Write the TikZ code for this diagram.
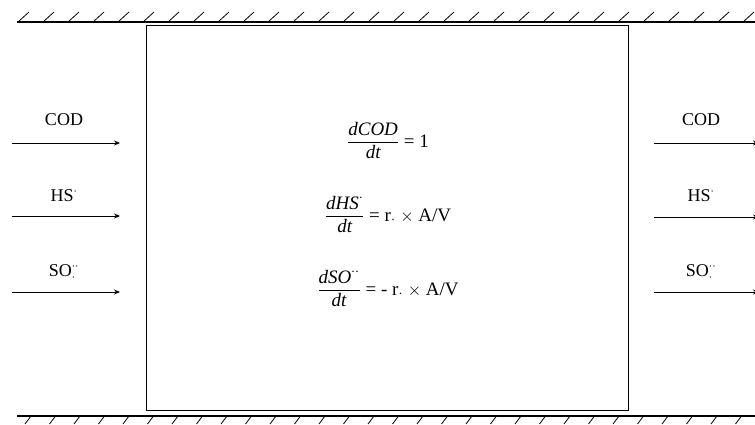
\documentclass[tikz,border=0pt]{standalone}
\usepackage{amsmath}
\usepackage{fontspec}
\setmainfont{Liberation Serif}
\usetikzlibrary{arrows.meta}
\begin{document}
\begin{tikzpicture}[x=1pt,y=-1pt,
  wall/.style={line width=1.1pt},
  hatch/.style={line width=0.8pt},
  flow/.style={line width=0.9pt,-{Stealth[length=6pt,width=5pt]}},
  lbl/.style={font=\fontsize{18}{20}\selectfont, inner sep=0pt, anchor=base},
  eq/.style={font=\fontsize{19}{21}\selectfont, inner sep=0pt, anchor=base}]
\useasboundingbox (0,0) rectangle (755,425);
% walls
\draw[wall] (17,22) -- (755,22);
\foreach \x in {18,43,...,755} \draw[hatch] (\x,22) -- ++(11,-10);
\draw[wall] (17,416) -- (755,416);
\foreach \x in {31,55.5,...,755} \draw[hatch] (\x,416) -- ++(-6,8);
% reactor box
\node[draw, line width=1pt, inner sep=0pt, minimum width=482pt, minimum height=384pt] (reactor) at (387,218) {};
% inflow
\coordinate (inA) at (12,143); \coordinate (inAe) at (120,143);
\coordinate (inB) at (12,216); \coordinate (inBe) at (120,216);
\coordinate (inC) at (12,292); \coordinate (inCe) at (120,292);
\draw[flow] (inA) -- (inAe);
\draw[flow] (inB) -- (inBe);
\draw[flow] (inC) -- (inCe);
\node[lbl] (lA) at (64,126) {COD};
\node[lbl] (lB) at (64,201) {HS$^{\cdot}$};
\node[lbl] (lC) at (64,276) {SO$^{\cdot\cdot}_{\cdot}$};
% outflow
\coordinate (outA) at (654,143); \coordinate (outAe) at (759,143);
\coordinate (outB) at (654,217); \coordinate (outBe) at (759,217);
\coordinate (outC) at (654,292); \coordinate (outCe) at (759,292);
\draw[flow] (outA) -- (outAe);
\draw[flow] (outB) -- (outBe);
\draw[flow] (outC) -- (outCe);
\node[lbl] (rA) at (701,126) {COD};
\node[lbl] (rB) at (701,201) {HS$^{\cdot}$};
\node[lbl] (rC) at (701,276) {SO$^{\cdot\cdot}_{\cdot}$};
% equations
\node[eq] (e1) at (388,147) {$\dfrac{\textit{dCOD}}{\textit{dt}}$ = 1};
\node[eq] (e2) at (388,221) {$\dfrac{\textit{dHS}^{\cdot}}{\textit{dt}}$ = r$_{\cdot}$ $\times$ A/V};
\node[eq] (e3) at (388,295) {$\dfrac{\textit{dSO}^{\cdot\cdot}}{\textit{dt}}$ = - r$_{\cdot}$ $\times$ A/V};
\end{tikzpicture}
\end{document}
